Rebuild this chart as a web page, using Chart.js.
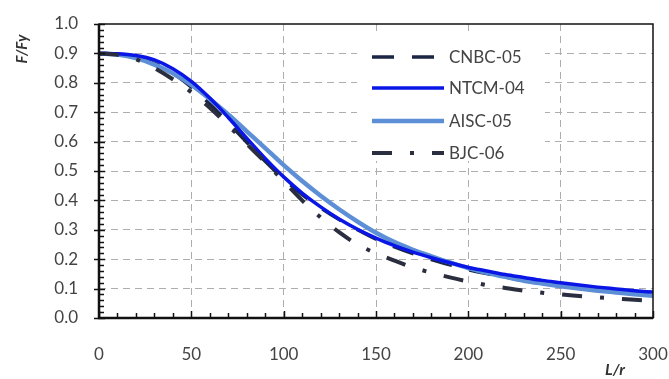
<!DOCTYPE html>
<html>
<head>
<meta charset="utf-8">
<script src="https://cdn.jsdelivr.net/npm/chart.js@4"></script>
<style>
  html, body { margin: 0; padding: 0; background: #fff; }
  #wrap { width: 669px; height: 379px; position: relative; }
</style>
</head>
<body>
<div id="wrap"><canvas id="columnChart"></canvas></div>
<script>
// ============================
// Data
// ============================
const slenderness = [0, 10, 20, 30, 40, 50, 60, 70, 80, 90, 100, 110, 120, 130, 140, 150,
  160, 170, 180, 190, 200, 210, 220, 230, 240, 250, 260, 270, 280, 290, 300];

const cnbc05 = [0.900, 0.897, 0.887, 0.866, 0.832, 0.785, 0.728, 0.664, 0.598, 0.533, 0.473,
  0.420, 0.375, 0.335, 0.300, 0.268, 0.242, 0.219, 0.199, 0.181, 0.164, 0.151, 0.139, 0.128,
  0.118, 0.109, 0.102, 0.095, 0.088, 0.083, 0.077];

const ntcm04 = [0.900, 0.899, 0.893, 0.878, 0.848, 0.805, 0.748, 0.682, 0.612, 0.543, 0.480,
  0.425, 0.378, 0.337, 0.302, 0.272, 0.246, 0.224, 0.205, 0.188, 0.172, 0.160, 0.148, 0.138,
  0.128, 0.120, 0.112, 0.105, 0.099, 0.093, 0.088];

const aisc05 = [0.900, 0.896, 0.884, 0.862, 0.832, 0.793, 0.745, 0.692, 0.635, 0.578, 0.520,
  0.466, 0.416, 0.370, 0.328, 0.290, 0.258, 0.232, 0.210, 0.189, 0.170, 0.154, 0.140, 0.127,
  0.117, 0.108, 0.100, 0.093, 0.087, 0.081, 0.076];

const bjc06 = [0.900, 0.895, 0.880, 0.850, 0.812, 0.768, 0.715, 0.655, 0.592, 0.530, 0.465,
  0.400, 0.342, 0.292, 0.250, 0.220, 0.195, 0.172, 0.154, 0.138, 0.124, 0.112, 0.102, 0.093,
  0.086, 0.080, 0.075, 0.070, 0.066, 0.062, 0.058];

const seriesNames = ["CNBC-05", "NTCM-04", "AISC-05", "BJC-06"];
const xTicks = [0, 50, 100, 150, 200, 250, 300];
const yTicks = [0, 0.1, 0.2, 0.3, 0.4, 0.5, 0.6, 0.7, 0.8, 0.9, 1.0];

const FONT = "Lato";
const TEXT = "#444";

function toPoints(values) {
  return slenderness.map((x, i) => ({ x, y: values[i] }));
}

// ============================
// Box, ticks, titles, legend
// ============================
const framePlugin = {
  id: "frame",
  afterDatasetsDraw(chart) {
    const { ctx, chartArea: a, scales: { x, y } } = chart;
    ctx.save();
    ctx.strokeStyle = "#111";

    // outer box
    ctx.lineWidth = 1.5;
    ctx.strokeRect(a.left, a.top, a.right - a.left, a.bottom - a.top);

    // axis lines a bit heavier
    ctx.lineWidth = 2.5;
    ctx.beginPath();
    ctx.moveTo(a.left, a.top);
    ctx.lineTo(a.left, a.bottom);
    ctx.lineTo(a.right, a.bottom);
    ctx.stroke();

    // y ticks: minor every 0.02, major every 0.1
    ctx.lineWidth = 1.5;
    for (let i = 0; i <= 50; i++) {
      const py = Math.round(y.getPixelForValue(i * 0.02)) + 0.5;
      const major = i % 5 === 0;
      ctx.beginPath();
      ctx.moveTo(a.left - (major ? 5 : 0), py);
      ctx.lineTo(a.left + (major ? 6 : 5), py);
      ctx.stroke();
    }
    // x ticks: minor every 10, major every 50
    for (let i = 0; i <= 30; i++) {
      const px = Math.round(x.getPixelForValue(i * 10)) + 0.5;
      const major = i % 5 === 0;
      ctx.beginPath();
      ctx.moveTo(px, a.bottom);
      ctx.lineTo(px, a.bottom - (major ? 7 : 5));
      ctx.stroke();
    }

    // axis titles
    ctx.fillStyle = "#333";
    ctx.font = "italic bold 15px " + FONT;
    ctx.textAlign = "center";
    ctx.textBaseline = "middle";
    ctx.save();
    ctx.translate(22, 49);
    ctx.rotate(-Math.PI / 2);
    ctx.fillText("F/Fy", 0, 0);
    ctx.restore();
    ctx.font = "italic bold 16px " + FONT;
    ctx.fillText("L/r", 615, 370);

    // legend inside the plot
    ctx.fillStyle = "#fff";
    ctx.fillRect(357, 31, 188, 130);
    const rows = [57, 88, 121, 153];
    chart.data.datasets.forEach((ds, i) => {
      ctx.save();
      ctx.strokeStyle = ds.borderColor;
      ctx.lineWidth = ds.borderWidth;
      ctx.setLineDash(ds.borderDash || []);
      ctx.lineCap = "butt";
      ctx.beginPath();
      ctx.moveTo(372, rows[i]);
      ctx.lineTo(444, rows[i]);
      ctx.stroke();
      ctx.restore();
      ctx.fillStyle = TEXT;
      ctx.font = "17px " + FONT;
      ctx.textAlign = "left";
      ctx.textBaseline = "middle";
      ctx.fillText(ds.label, 449, rows[i] + 1);
    });

    ctx.restore();
  }
};

const hideEdges = (ctx) => {
  const v = ctx.tick ? ctx.tick.value : null;
  const s = ctx.scale;
  return (v === s.min || v === s.max) ? "rgba(0,0,0,0)" : "#aeaeae";
};

new Chart(document.getElementById("columnChart"), {
  type: "line",
  data: {
    datasets: [
      { label: seriesNames[0], data: toPoints(cnbc05), borderColor: "#1b2544",
        borderWidth: 3.5, borderDash: [22, 18], order: 3 },
      { label: seriesNames[1], data: toPoints(ntcm04), borderColor: "#0a16e6",
        borderWidth: 3.5, order: 1 },
      { label: seriesNames[2], data: toPoints(aisc05), borderColor: "#5d8fd6",
        borderWidth: 4.5, order: 2 },
      { label: seriesNames[3], data: toPoints(bjc06), borderColor: "#2a2e3e",
        borderWidth: 4, borderDash: [20, 18, 4, 18], order: 0 }
    ]
  },
  options: {
    responsive: true,
    maintainAspectRatio: false,
    animation: false,
    layout: { padding: { left: 0, top: 24, right: 16, bottom: 0 } },
    elements: {
      point: { radius: 0 },
      line: { tension: 0.4, cubicInterpolationMode: "monotone", fill: false }
    },
    plugins: {
      legend: { display: false },
      tooltip: { enabled: false }
    },
    scales: {
      x: {
        type: "linear",
        min: 0,
        max: 300,
        afterBuildTicks: (scale) => { scale.ticks = xTicks.map(v => ({ value: v })); },
        afterFit: (scale) => {
          scale.height = 61;
          scale.paddingLeft = 0;
          scale.paddingRight = 0;
        },
        grid: { color: hideEdges, lineWidth: 1, drawTicks: false },
        border: { display: false, dash: [7, 5] },
        ticks: { color: TEXT, font: { family: FONT, size: 17 }, padding: 26, maxRotation: 0 }
      },
      y: {
        min: 0,
        max: 1.0,
        afterBuildTicks: (scale) => { scale.ticks = yTicks.map(v => ({ value: v })); },
        afterFit: (scale) => {
          scale.width = 99;
          scale.paddingTop = 0;
          scale.paddingBottom = 0;
        },
        grid: { color: hideEdges, lineWidth: 1, drawTicks: false },
        border: { display: false, dash: [7, 5] },
        ticks: {
          color: TEXT,
          font: { family: FONT, size: 17 },
          padding: 21,
          callback: (v) => v.toFixed(1)
        }
      }
    }
  },
  plugins: [framePlugin]
});
</script>
</body>
</html>
